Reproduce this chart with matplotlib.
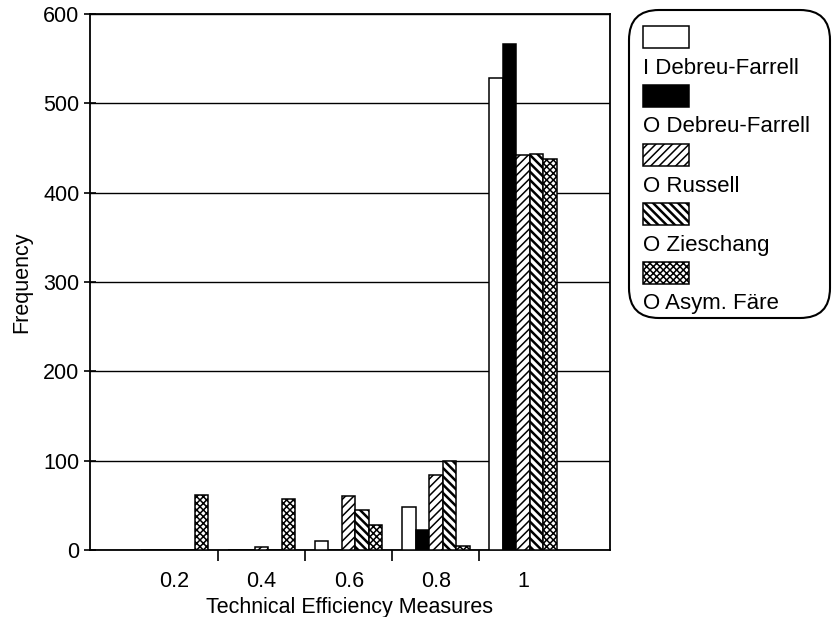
import matplotlib
matplotlib.use('Agg')
import matplotlib.pyplot as plt
import numpy as np
from matplotlib.patches import FancyBboxPatch, Rectangle

plt.rcParams['font.family'] = ['Liberation Sans', 'DejaVu Sans']
plt.rcParams['hatch.linewidth'] = 1.2

# data
bins = ['0.2', '0.4', '0.6', '0.8', '1']
series = ['I Debreu-Farrell', 'O Debreu-Farrell', 'O Russell', 'O Zieschang', 'O Asym. Färe']
i_debreu = [0, 0, 10, 48, 528]
o_debreu = [0, 0, 0, 22, 566]
o_russell = [0, 3, 61, 84, 442]
o_zieschang = [0, 0, 45, 100, 443]
o_asym = [62, 57, 28, 5, 438]

values = [i_debreu, o_debreu, o_russell, o_zieschang, o_asym]
faces = ['white', 'black', 'white', 'white', 'white']
hatches = [None, None, '////', '\\\\\\\\', 'xxxxx']
hatch_lw = [1.2, 1.2, 1.1, 1.8, 1.1]


def set_hatch_lw(patch, lw):
    # per-patch hatch width only exists in newer matplotlib
    if hasattr(patch, 'set_hatch_linewidth'):
        patch.set_hatch_linewidth(lw)


fig = plt.figure(figsize=(8.32, 6.17), dpi=100)
ax = fig.add_axes([90 / 832, 1 - 550 / 617, 520 / 832, 536 / 617])

x = np.arange(1, len(bins) + 1)
w = 0.155
for k, vals in enumerate(values):
    bars = ax.bar(x + (k - 2) * w, vals, w, color=faces[k], edgecolor='black',
                  linewidth=1.1, hatch=hatches[k], zorder=3)
    for b in bars:
        set_hatch_lw(b, hatch_lw[k])

ax.set_xlim(0.03, 6.0)
ax.set_ylim(0, 600)
ax.set_yticks(range(0, 601, 100))
ax.yaxis.grid(True, color='black', linewidth=1.0, zorder=0)
ax.set_axisbelow(True)
ax.set_xticks(x)
ax.set_xticklabels(bins)
ax.set_xticks(x[:-1] + 0.5, minor=True)
ax.tick_params(axis='x', which='major', length=0, labelsize=15.5, pad=15)
ax.tick_params(axis='x', which='minor', length=8, width=1.2, direction='out')
ax.tick_params(axis='y', length=9, width=1.2, direction='inout', labelsize=15.5, pad=3)
for s in ax.spines.values():
    s.set_linewidth(1.3)

ax.set_xlabel('Technical Efficiency Measures', fontsize=15.5, labelpad=4)
ax.set_ylabel('Frequency', fontsize=15.5, labelpad=8)

# legend drawn by hand: patch above each label, rounded frame
tr = fig.dpi_scale_trans
H = 6.17
frame = FancyBboxPatch((629 / 100, H - 318 / 100), 201 / 100, 308 / 100,
                       boxstyle='round,pad=0,rounding_size=0.3',
                       transform=tr, facecolor='white', edgecolor='black',
                       linewidth=1.5)
fig.patches.append(frame)
for k, name in enumerate(series):
    top = 26 + 59 * k
    p = Rectangle((643 / 100, H - (top + 22) / 100), 46 / 100, 22 / 100,
                  transform=tr, facecolor=faces[k], edgecolor='black',
                  linewidth=1.1, hatch=hatches[k])
    set_hatch_lw(p, hatch_lw[k])
    fig.patches.append(p)
    fig.text(643 / 100, H - (top + 42) / 100, name, transform=tr, fontsize=16,
             va='center', ha='left')

fig.savefig('out.png', dpi=100)
